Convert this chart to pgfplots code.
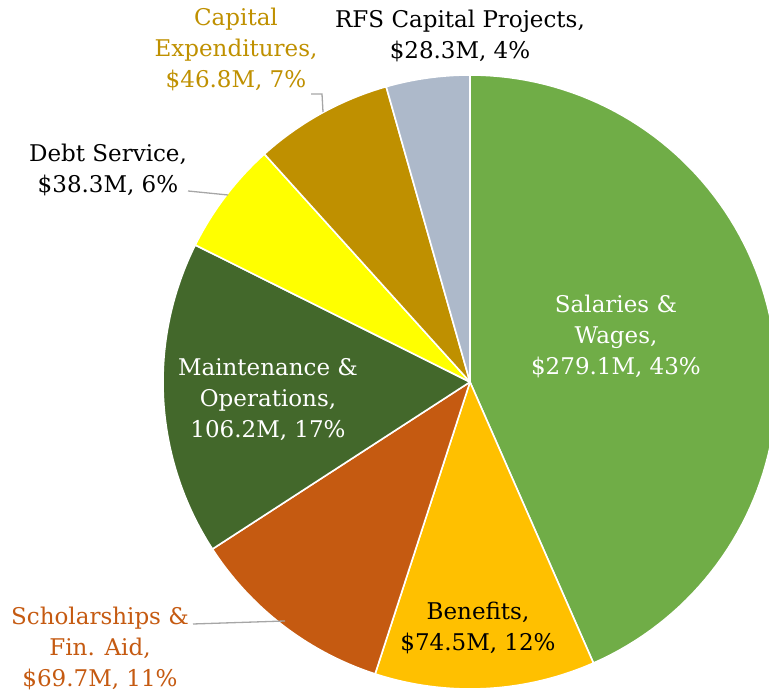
\documentclass[border=0pt]{standalone}
\usepackage{pgfplots}
\pgfplotsset{compat=1.18}
\usepackage{fontspec}
\setmainfont{DejaVu Serif}
\definecolor{cSal}{HTML}{70AD47}
\definecolor{cBen}{HTML}{FFC000}
\definecolor{cSch}{HTML}{C55A11}
\definecolor{cMai}{HTML}{43682B}
\definecolor{cDeb}{HTML}{FFFF00}
\definecolor{cCap}{HTML}{BF9000}
\definecolor{cRFS}{HTML}{ADB9CA}
\definecolor{cLead}{HTML}{A6A6A6}
% values in $M
\def\vSal{279.1}
\def\vBen{74.5}
\def\vSch{69.7}
\def\vMai{106.2}
\def\vDeb{38.3}
\def\vCap{46.8}
\def\vRFS{28.3}
\begin{document}
\begin{tikzpicture}
\pgfmathsetmacro{\tot}{\vSal+\vBen+\vSch+\vMai+\vDeb+\vCap+\vRFS}
\pgfmathsetmacro{\aA}{90}
\pgfmathsetmacro{\aB}{\aA-\vSal/\tot*360}
\pgfmathsetmacro{\aC}{\aB-\vBen/\tot*360}
\pgfmathsetmacro{\aD}{\aC-\vSch/\tot*360}
\pgfmathsetmacro{\aE}{\aD-\vMai/\tot*360}
\pgfmathsetmacro{\aF}{\aE-\vDeb/\tot*360}
\pgfmathsetmacro{\aG}{\aF-\vCap/\tot*360}
\pgfmathsetmacro{\aH}{\aG-\vRFS/\tot*360}
\begin{axis}[
  scale only axis, width=769pt, height=692pt,
  xmin=0, xmax=769, ymin=0, ymax=692,
  hide axis, clip=true,
  every axis plot/.append style={draw=white, line width=1.6pt, samples=90, line join=round},
]
\addplot[fill=cSal, domain=\aB:\aA] ({470+307*cos(x)},{310+307*sin(x)}) -- (axis cs:470,310) -- cycle;
\addplot[fill=cBen, domain=\aC:\aB] ({470+307*cos(x)},{310+307*sin(x)}) -- (axis cs:470,310) -- cycle;
\addplot[fill=cSch, domain=\aD:\aC] ({470+307*cos(x)},{310+307*sin(x)}) -- (axis cs:470,310) -- cycle;
\addplot[fill=cMai, domain=\aE:\aD] ({470+307*cos(x)},{310+307*sin(x)}) -- (axis cs:470,310) -- cycle;
\addplot[fill=cDeb, domain=\aF:\aE] ({470+307*cos(x)},{310+307*sin(x)}) -- (axis cs:470,310) -- cycle;
\addplot[fill=cCap, domain=\aG:\aF] ({470+307*cos(x)},{310+307*sin(x)}) -- (axis cs:470,310) -- cycle;
\addplot[fill=cRFS, domain=\aH:\aG] ({470+307*cos(x)},{310+307*sin(x)}) -- (axis cs:470,310) -- cycle;
% leader lines
\draw[cLead, line width=1.3pt] (axis cs:311,598) -- (axis cs:322,598) -- (axis cs:323,580);
\draw[cLead, line width=1.3pt] (axis cs:188,501) -- (axis cs:228,497);
\draw[cLead, line width=1.3pt] (axis cs:193,68) -- (axis cs:285,71);
% labels
\tikzset{lab/.style={align=center, inner sep=0pt, font=\fontsize{23}{31}\selectfont}}
\node[lab, text=cCap] at (axis cs:236,643) {Capital\\Expenditures,\\\$46.8M, 7\%};
\node[lab, text=black] at (axis cs:460,656) {RFS Capital Projects,\\\$28.3M, 4\%};
\node[lab, text=black] at (axis cs:108,522) {Debt Service,\\\$38.3M, 6\%};
\node[lab, text=white] at (axis cs:616,356) {Salaries \&\\Wages,\\\$279.1M, 43\%};
\node[lab, text=white] at (axis cs:268,292) {Maintenance \&\\Operations,\\106.2M, 17\%};
\node[lab, text=cSch] at (axis cs:100,44) {Scholarships \&\\Fin. Aid,\\\$69.7M, 11\%};
\node[lab, text=black] at (axis cs:478,64) {Benefits,\\\$74.5M, 12\%};
\end{axis}
\pgfresetboundingbox
\useasboundingbox (0,0) rectangle (769pt,692pt);
\end{tikzpicture}
\end{document}
